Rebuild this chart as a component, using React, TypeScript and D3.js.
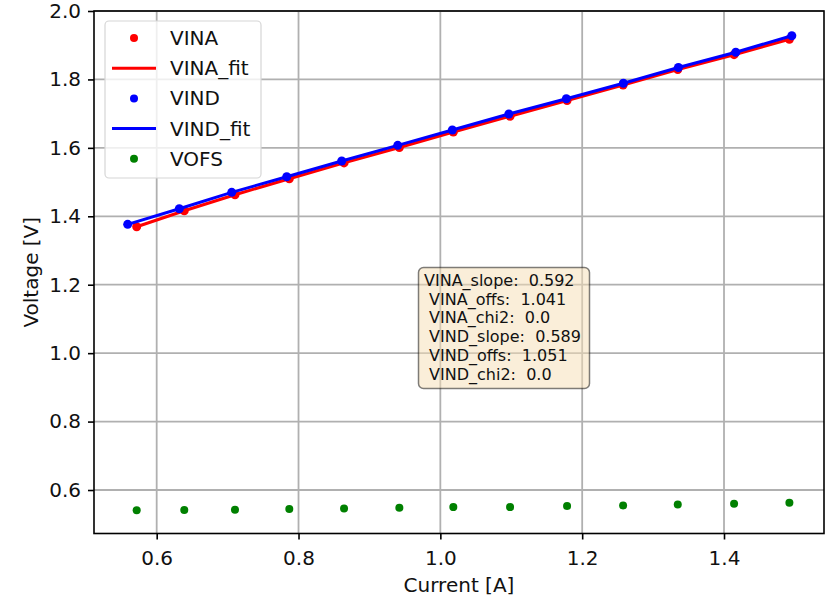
import React, { useEffect, useRef } from 'react';
import * as d3 from 'd3';

// values
const vinaCurrent = [0.5718, 0.6389, 0.7104, 0.787, 0.8642, 0.9422, 1.0183, 1.0983, 1.1787, 1.2577, 1.3348, 1.4142, 1.4922];
const vinaVoltage = [1.3695, 1.4163, 1.463, 1.5098, 1.556, 1.601, 1.6463, 1.6925, 1.7384, 1.7837, 1.829, 1.8723, 1.9173];
const vindCurrent = [0.5591, 0.6319, 0.7058, 0.7834, 0.8609, 0.9399, 1.0169, 1.0966, 1.1777, 1.2581, 1.3357, 1.4166, 1.4956];
const vindVoltage = [1.3765, 1.4221, 1.47, 1.5156, 1.5615, 1.6074, 1.6521, 1.6989, 1.7436, 1.7887, 1.8348, 1.8793, 1.9278];
const vofsVoltage = [0.5405, 0.5414, 0.5422, 0.5443, 0.5463, 0.5481, 0.5501, 0.5501, 0.553, 0.5551, 0.558, 0.5598, 0.5627];

const xTicks = [0.6, 0.8, 1.0, 1.2, 1.4];
const yTicks = [0.6, 0.8, 1.0, 1.2, 1.4, 1.6, 1.8, 2.0];

const legendItems = [
  { label: 'VINA', color: 'red', kind: 'dot' },
  { label: 'VINA_fit', color: 'red', kind: 'line' },
  { label: 'VIND', color: 'blue', kind: 'dot' },
  { label: 'VIND_fit', color: 'blue', kind: 'line' },
  { label: 'VOFS', color: 'green', kind: 'dot' },
];

const fitLines = [
  'VINA_slope:  0.592',
  ' VINA_offs:  1.041',
  ' VINA_chi2:  0.0',
  ' VIND_slope:  0.589',
  ' VIND_offs:  1.051',
  ' VIND_chi2:  0.0',
];

const FONT = '"DejaVu Sans", sans-serif';

const App: React.FC = () => {
  const svgRef = useRef<SVGSVGElement>(null);

  useEffect(() => {
    if (!svgRef.current) return;
    const svg = d3.select(svgRef.current);
    svg.selectAll('*').remove();

    const width = 834;
    const height = 596;
    const margin = { top: 11, right: 10, bottom: 62.5, left: 94 };

    const x = d3.scaleLinear().domain([0.5116, 1.541]).range([margin.left, width - margin.right]);
    const y = d3.scaleLinear().domain([0.4729, 2.0]).range([height - margin.bottom, margin.top]);

    svg.append('rect').attr('width', width).attr('height', height).attr('fill', 'white');

    // grid
    const grid = svg.append('g').attr('stroke', '#b0b0b0').attr('stroke-width', 1.8);
    xTicks.forEach(t => {
      grid.append('line')
        .attr('x1', x(t)).attr('x2', x(t))
        .attr('y1', margin.top).attr('y2', height - margin.bottom);
    });
    yTicks.forEach(t => {
      grid.append('line')
        .attr('x1', margin.left).attr('x2', width - margin.right)
        .attr('y1', y(t)).attr('y2', y(t));
    });

    // VINA points + fit
    svg.append('g').selectAll('circle')
      .data(d3.range(vinaCurrent.length))
      .enter().append('circle')
      .attr('cx', i => x(vinaCurrent[i]))
      .attr('cy', i => y(vinaVoltage[i]))
      .attr('r', 4.5)
      .attr('fill', 'red');

    const line = d3.line<number>();
    svg.append('path')
      .attr('d', line(vinaCurrent.map((c, i) => [x(c), y(vinaVoltage[i])] as [number, number])))
      .attr('fill', 'none').attr('stroke', 'red').attr('stroke-width', 3);

    // VIND points + fit
    svg.append('g').selectAll('circle')
      .data(d3.range(vindCurrent.length))
      .enter().append('circle')
      .attr('cx', i => x(vindCurrent[i]))
      .attr('cy', i => y(vindVoltage[i]))
      .attr('r', 4.5)
      .attr('fill', 'blue');

    svg.append('path')
      .attr('d', line(vindCurrent.map((c, i) => [x(c), y(vindVoltage[i])] as [number, number])))
      .attr('fill', 'none').attr('stroke', 'blue').attr('stroke-width', 3);

    // VOFS
    svg.append('g').selectAll('circle')
      .data(d3.range(vinaCurrent.length))
      .enter().append('circle')
      .attr('cx', i => x(vinaCurrent[i]))
      .attr('cy', i => y(vofsVoltage[i]))
      .attr('r', 4)
      .attr('fill', 'green');

    // axes
    const xAxis = svg.append('g')
      .attr('transform', `translate(0,${height - margin.bottom})`)
      .call(d3.axisBottom(x).tickValues(xTicks).tickFormat(d3.format('.1f')).tickSize(6).tickPadding(11));
    const yAxis = svg.append('g')
      .attr('transform', `translate(${margin.left},0)`)
      .call(d3.axisLeft(y).tickValues(yTicks).tickFormat(d3.format('.1f')).tickSize(6).tickPadding(7));
    [xAxis, yAxis].forEach(a => {
      a.select('.domain').remove();
      a.selectAll('line').attr('stroke', 'black').attr('stroke-width', 1.6);
      a.selectAll('text').attr('fill', '#111').style('font-size', '20px').style('font-family', FONT);
    });

    // spines
    svg.append('rect')
      .attr('x', margin.left).attr('y', margin.top)
      .attr('width', width - margin.left - margin.right)
      .attr('height', height - margin.top - margin.bottom)
      .attr('fill', 'none').attr('stroke', 'black').attr('stroke-width', 1.6);

    // axis labels
    svg.append('text')
      .attr('x', (margin.left + width - margin.right) / 2)
      .attr('y', 592)
      .attr('text-anchor', 'middle')
      .style('font-size', '20px').style('font-family', FONT).attr('fill', '#111')
      .text('Current [A]');
    svg.append('text')
      .attr('transform', `translate(37.5,${(margin.top + height - margin.bottom) / 2}) rotate(-90)`)
      .attr('text-anchor', 'middle')
      .style('font-size', '20px').style('font-family', FONT).attr('fill', '#111')
      .text('Voltage [V]');

    // legend
    const legend = svg.append('g');
    legend.append('rect')
      .attr('x', 105).attr('y', 21).attr('width', 156).attr('height', 157)
      .attr('rx', 4)
      .attr('fill', 'white').attr('fill-opacity', 0.8)
      .attr('stroke', '#d6d6d6').attr('stroke-width', 1.2);
    legendItems.forEach((item, i) => {
      const cy = 38 + i * 30.2;
      if (item.kind === 'dot') {
        legend.append('circle').attr('cx', 134).attr('cy', cy).attr('r', 4).attr('fill', item.color);
      } else {
        legend.append('line')
          .attr('x1', 112).attr('x2', 156).attr('y1', cy).attr('y2', cy)
          .attr('stroke', item.color).attr('stroke-width', 3);
      }
      legend.append('text')
        .attr('x', 170).attr('y', cy + 7)
        .style('font-size', '20px').style('font-family', FONT).attr('fill', '#111')
        .text(item.label);
    });

    // fit results box
    const box = svg.append('g');
    box.append('rect')
      .attr('x', 418.5).attr('y', 267.5).attr('width', 171).attr('height', 121)
      .attr('rx', 5)
      .attr('fill', '#f5deb3').attr('fill-opacity', 0.5)
      .attr('stroke', 'black').attr('stroke-opacity', 0.5).attr('stroke-width', 1.5);
    const boxText = box.append('text')
      .attr('x', 424).attr('y', 286)
      .attr('xml:space', 'preserve')
      .style('white-space', 'pre')
      .style('font-size', '16px').style('font-family', FONT).attr('fill', '#111');
    fitLines.forEach((t, i) => {
      boxText.append('tspan')
        .attr('x', 424)
        .attr('y', 286 + i * 18.7)
        .text(t);
    });
  }, []);

  return (
    <svg
      ref={svgRef}
      width={834}
      height={596}
      style={{ position: 'absolute', left: 0, top: 0 }}
    />
  );
};

export default App;
